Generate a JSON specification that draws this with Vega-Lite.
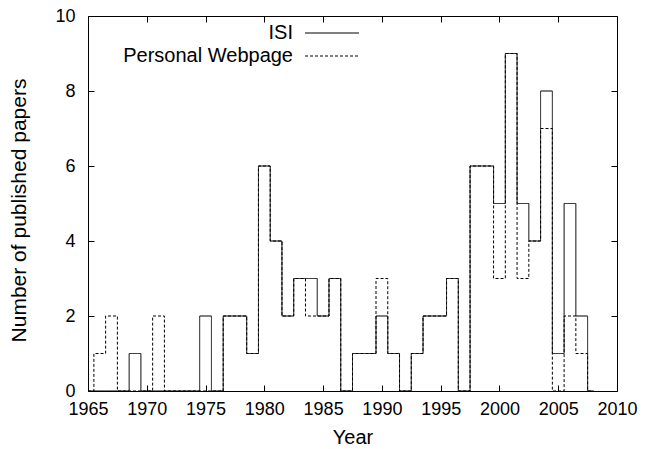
{
  "$schema": "https://vega.github.io/schema/vega-lite/v6.json",
  "width": 529,
  "height": 375,
  "autosize": {"type": "none"},
  "padding": {"left": 88, "top": 16, "right": 40, "bottom": 58},
  "background": "white",
  "config": {
    "font": "Liberation Sans",
    "view": {"stroke": "black", "strokeWidth": 1},
    "axis": {
      "grid": false,
      "domain": false,
      "tickColor": "black",
      "tickWidth": 1,
      "tickSize": -6,
      "labelColor": "black",
      "labelFont": "Liberation Sans",
      "labelFontSize": 18,
      "titleColor": "black",
      "titleFont": "Liberation Sans",
      "titleFontSize": 20,
      "titleFontWeight": "normal"
    }
  },
  "data": {
    "values": [
      {"year": 1965, "source": "ISI", "count": 0},
      {"year": 1966, "source": "ISI", "count": 0},
      {"year": 1967, "source": "ISI", "count": 0},
      {"year": 1968, "source": "ISI", "count": 0},
      {"year": 1969, "source": "ISI", "count": 1},
      {"year": 1970, "source": "ISI", "count": 0},
      {"year": 1971, "source": "ISI", "count": 0},
      {"year": 1972, "source": "ISI", "count": 0},
      {"year": 1973, "source": "ISI", "count": 0},
      {"year": 1974, "source": "ISI", "count": 0},
      {"year": 1975, "source": "ISI", "count": 2},
      {"year": 1976, "source": "ISI", "count": 0},
      {"year": 1977, "source": "ISI", "count": 2},
      {"year": 1978, "source": "ISI", "count": 2},
      {"year": 1979, "source": "ISI", "count": 1},
      {"year": 1980, "source": "ISI", "count": 6},
      {"year": 1981, "source": "ISI", "count": 4},
      {"year": 1982, "source": "ISI", "count": 2},
      {"year": 1983, "source": "ISI", "count": 3},
      {"year": 1984, "source": "ISI", "count": 3},
      {"year": 1985, "source": "ISI", "count": 2},
      {"year": 1986, "source": "ISI", "count": 3},
      {"year": 1987, "source": "ISI", "count": 0},
      {"year": 1988, "source": "ISI", "count": 1},
      {"year": 1989, "source": "ISI", "count": 1},
      {"year": 1990, "source": "ISI", "count": 2},
      {"year": 1991, "source": "ISI", "count": 1},
      {"year": 1992, "source": "ISI", "count": 0},
      {"year": 1993, "source": "ISI", "count": 1},
      {"year": 1994, "source": "ISI", "count": 2},
      {"year": 1995, "source": "ISI", "count": 2},
      {"year": 1996, "source": "ISI", "count": 3},
      {"year": 1997, "source": "ISI", "count": 0},
      {"year": 1998, "source": "ISI", "count": 6},
      {"year": 1999, "source": "ISI", "count": 6},
      {"year": 2000, "source": "ISI", "count": 5},
      {"year": 2001, "source": "ISI", "count": 9},
      {"year": 2002, "source": "ISI", "count": 5},
      {"year": 2003, "source": "ISI", "count": 4},
      {"year": 2004, "source": "ISI", "count": 8},
      {"year": 2005, "source": "ISI", "count": 1},
      {"year": 2006, "source": "ISI", "count": 5},
      {"year": 2007, "source": "ISI", "count": 2},
      {"year": 2008, "source": "ISI", "count": 0},
      {"year": 1965, "source": "Personal Webpage", "count": 0},
      {"year": 1966, "source": "Personal Webpage", "count": 1},
      {"year": 1967, "source": "Personal Webpage", "count": 2},
      {"year": 1968, "source": "Personal Webpage", "count": 0},
      {"year": 1969, "source": "Personal Webpage", "count": 0},
      {"year": 1970, "source": "Personal Webpage", "count": 0},
      {"year": 1971, "source": "Personal Webpage", "count": 2},
      {"year": 1972, "source": "Personal Webpage", "count": 0},
      {"year": 1973, "source": "Personal Webpage", "count": 0},
      {"year": 1974, "source": "Personal Webpage", "count": 0},
      {"year": 1975, "source": "Personal Webpage", "count": 0},
      {"year": 1976, "source": "Personal Webpage", "count": 0},
      {"year": 1977, "source": "Personal Webpage", "count": 2},
      {"year": 1978, "source": "Personal Webpage", "count": 2},
      {"year": 1979, "source": "Personal Webpage", "count": 1},
      {"year": 1980, "source": "Personal Webpage", "count": 6},
      {"year": 1981, "source": "Personal Webpage", "count": 4},
      {"year": 1982, "source": "Personal Webpage", "count": 2},
      {"year": 1983, "source": "Personal Webpage", "count": 3},
      {"year": 1984, "source": "Personal Webpage", "count": 2},
      {"year": 1985, "source": "Personal Webpage", "count": 2},
      {"year": 1986, "source": "Personal Webpage", "count": 3},
      {"year": 1987, "source": "Personal Webpage", "count": 0},
      {"year": 1988, "source": "Personal Webpage", "count": 1},
      {"year": 1989, "source": "Personal Webpage", "count": 1},
      {"year": 1990, "source": "Personal Webpage", "count": 3},
      {"year": 1991, "source": "Personal Webpage", "count": 1},
      {"year": 1992, "source": "Personal Webpage", "count": 0},
      {"year": 1993, "source": "Personal Webpage", "count": 1},
      {"year": 1994, "source": "Personal Webpage", "count": 2},
      {"year": 1995, "source": "Personal Webpage", "count": 2},
      {"year": 1996, "source": "Personal Webpage", "count": 3},
      {"year": 1997, "source": "Personal Webpage", "count": 0},
      {"year": 1998, "source": "Personal Webpage", "count": 6},
      {"year": 1999, "source": "Personal Webpage", "count": 6},
      {"year": 2000, "source": "Personal Webpage", "count": 3},
      {"year": 2001, "source": "Personal Webpage", "count": 9},
      {"year": 2002, "source": "Personal Webpage", "count": 3},
      {"year": 2003, "source": "Personal Webpage", "count": 4},
      {"year": 2004, "source": "Personal Webpage", "count": 7},
      {"year": 2005, "source": "Personal Webpage", "count": 0},
      {"year": 2006, "source": "Personal Webpage", "count": 2},
      {"year": 2007, "source": "Personal Webpage", "count": 1},
      {"year": 2008, "source": "Personal Webpage", "count": 0}
    ]
  },
  "layer": [
    {
      "mark": {"type": "line", "interpolate": "step", "color": "black", "strokeWidth": 1, "clip": true},
      "encoding": {
        "x": {
          "field": "year", "type": "quantitative",
          "scale": {"domain": [1965, 2010], "nice": false, "zero": false},
          "axis": {
            "orient": "bottom", "title": "Year",
            "values": [1965, 1970, 1975, 1980, 1985, 1990, 1995, 2000, 2005, 2010],
            "format": "d", "labelPadding": 15, "titlePadding": 9,
            "labelFlush": false, "labelOverlap": false
          }
        },
        "y": {
          "field": "count", "type": "quantitative",
          "scale": {"domain": [0, 10], "nice": false},
          "axis": {
            "orient": "left", "title": "Number of published papers",
            "titleFontSize": 21, "titleY": 194,
            "values": [0, 2, 4, 6, 8, 10],
            "labelPadding": 19, "titlePadding": 25,
            "labelFlush": false, "labelOverlap": false
          }
        },
        "strokeDash": {
          "field": "source", "type": "nominal",
          "scale": {"domain": ["ISI", "Personal Webpage"], "range": [[1, 0], [3, 2]]},
          "legend": {
            "title": null,
            "orient": "none",
            "legendX": 234,
            "legendY": 7,
            "padding": 0,
            "symbolType": "M-3,0H3",
            "symbolSize": 324,
            "symbolStrokeColor": "black",
            "symbolStrokeWidth": 1,
            "symbolOpacity": 1,
            "rowPadding": 3,
            "labelAlign": "right",
            "labelOffset": -49,
            "labelFont": "Liberation Sans",
            "labelFontSize": 20,
            "labelColor": "black",
            "labelLimit": 0
          }
        }
      }
    },
    {
      "mark": {"type": "point", "opacity": 0},
      "encoding": {
        "x": {
          "field": "year", "type": "quantitative",
          "axis": {
            "orient": "top", "title": null, "labels": false,
            "values": [1965, 1970, 1975, 1980, 1985, 1990, 1995, 2000, 2005, 2010]
          }
        },
        "y": {
          "field": "count", "type": "quantitative",
          "axis": {
            "orient": "right", "title": null, "labels": false,
            "values": [0, 2, 4, 6, 8, 10]
          }
        }
      }
    }
  ],
  "resolve": {"axis": {"x": "independent", "y": "independent"}}
}
